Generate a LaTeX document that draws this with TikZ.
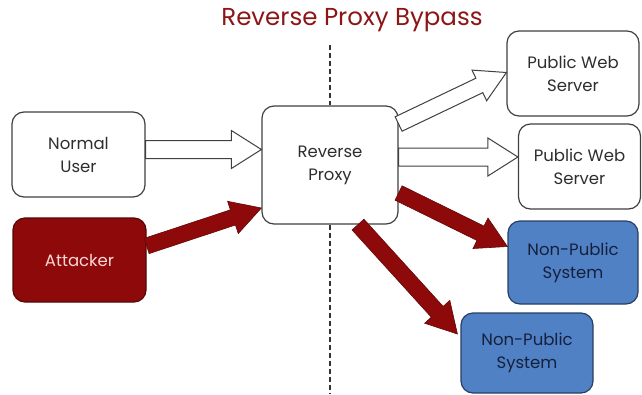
\documentclass[tikz,border=0pt]{standalone}
\usepackage{fontspec}
\setmainfont{Poppins}
\usetikzlibrary{calc}
\definecolor{titlered}{RGB}{140,22,22}
\definecolor{attackred}{RGB}{142,10,10}
\definecolor{sysblue}{RGB}{79,129,196}
\definecolor{sysedge}{RGB}{40,62,100}
\definecolor{systext}{RGB}{22,32,62}
% block arrow: style, from, to, half shaft, half wing, head length
\newcommand\blockarrow[6]{%
  \coordinate (ba-h) at ($(#3)!#6!(#2)$);
  \draw[#1] ($(#2)!#4!90:(#3)$) -- ($(ba-h)!#4!90:(#3)$)
    -- ($(ba-h)!#5!90:(#3)$) -- (#3)
    -- ($(ba-h)!#5!-90:(#3)$) -- ($(ba-h)!#4!-90:(#3)$)
    -- ($(#2)!#4!-90:(#3)$) -- cycle;}
\newcommand\openarrow[2]{\blockarrow{openarr}{#1}{#2}{9pt}{19pt}{30pt}}
\newcommand\hitarrow[2]{\blockarrow{hitarr}{#1}{#2}{8pt}{17pt}{30pt}}
\begin{document}
\begin{tikzpicture}[x=1pt, y=-1pt,
  box/.style={draw=black!75, line width=1.2pt, rounded corners=12pt, fill=#1,
    align=center, text=black!82, font=\fontsize{16.5}{23}\selectfont},
  box/.default=white,
  attack/.style={box=attackred, draw=attackred!60!black, text={rgb,255:red,250;green,214;blue,214}},
  hidden/.style={box=sysblue, draw=sysedge, text=systext},
  openarr/.style={fill=white, draw=black!75, line width=1pt, line join=miter},
  hitarr/.style={fill=attackred, draw=attackred!70!black, line width=0.6pt, line join=miter},
  divider/.style={draw=black!80, line width=1.6pt, dash pattern=on 5pt off 3pt}]
  \useasboundingbox (0,0) rectangle (642,394);
  \node[font=\fontsize{24.5}{28}\selectfont, text=titlered] (title) at (352,20) {Reverse Proxy Bypass};
  \node[box, minimum width=133pt, minimum height=85pt] (user) at (78.5,154.5) {Normal\\User};
  \node[attack, minimum width=133pt, minimum height=84pt] (attacker) at (79.5,260) {Attacker};
  \node[box, minimum width=136pt, minimum height=118pt] (proxy) at (330,165) {Reverse\\Proxy};
  \node[box, minimum width=132pt, minimum height=85pt] (web1) at (573,73.5) {Public Web\\Server};
  \node[box, minimum width=122pt, minimum height=85pt] (web2) at (579.5,166.5) {Public Web\\Server};
  \node[hidden, minimum width=130pt, minimum height=83pt] (sys1) at (573,262.5) {Non-Public\\System};
  \node[hidden, minimum width=132pt, minimum height=80pt] (sys2) at (527,353) {Non-Public\\System};
  % dashed split line
  \coordinate (cuttop) at (330,45);
  \coordinate (cutbot) at (330,394);
  \draw[divider] (cuttop) -- (proxy.north);
  \draw[divider] (proxy.south) -- (cutbot);
  % normal traffic
  \coordinate (u0) at ([yshift=5pt]user.east);
  \coordinate (u1) at (u0 -| proxy.west);
  \openarrow{u0}{u1}
  \coordinate (p1) at ([yshift=41pt]proxy.east);
  \coordinate (w1) at ([yshift=1pt]web1.west);
  \blockarrow{openarr}{p1}{w1}{8pt}{17pt}{30pt}
  \coordinate (p2) at ([yshift=8pt]proxy.east);
  \coordinate (w2) at (p2 -| web2.west);
  \openarrow{p2}{w2}
  % bypass traffic
  \coordinate (a0) at ([yshift=14pt]attacker.east);
  \coordinate (a1) at ([yshift=-43pt]proxy.west);
  \hitarrow{a0}{a1}
  \coordinate (p3) at ([yshift=-28pt]proxy.east);
  \coordinate (s1) at ([yshift=16pt]sys1.west);
  \hitarrow{p3}{s1}
  \coordinate (p4) at ([xshift=28pt]proxy.south);
  \coordinate (s2) at ([xshift=-3pt,yshift=19pt]sys2.west);
  \hitarrow{p4}{s2}
\end{tikzpicture}
\end{document}
